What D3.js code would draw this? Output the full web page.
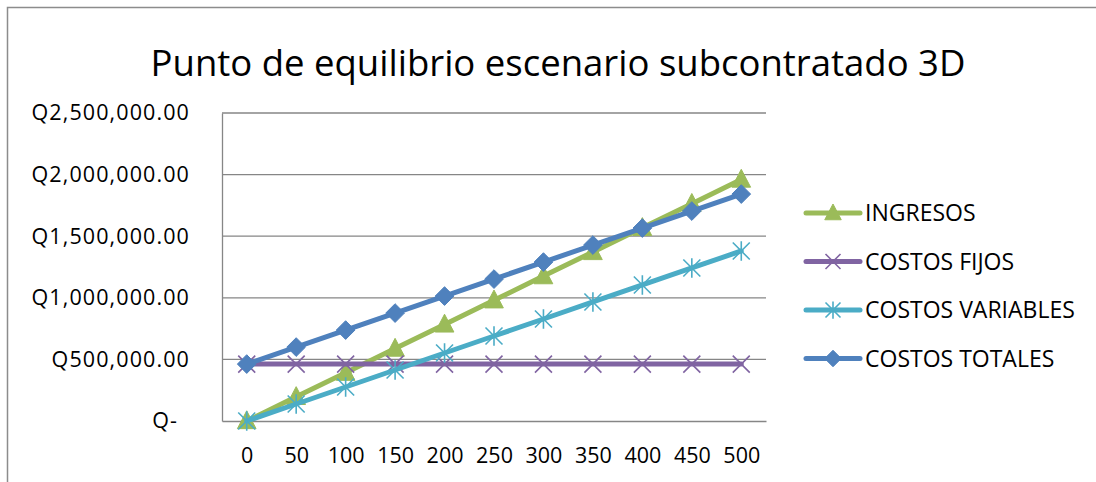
<!DOCTYPE html>
<html>
<head>
<meta charset="utf-8">
<script src="https://cdn.jsdelivr.net/npm/d3@7"></script>
<style>
  html, body { margin: 0; padding: 0; background: #fff; }
  svg { display: block; font-family: "Open Sans", "Noto Sans", sans-serif; }
</style>
</head>
<body>
<svg id="chart" width="1096" height="482"></svg>
<script>
// Break-even data: units produced vs. amounts in quetzales
const units = [0, 50, 100, 150, 200, 250, 300, 350, 400, 450, 500];
const ingresos = [0, 196000, 392000, 588000, 784000, 980000, 1176000, 1372000, 1568000, 1764000, 1960000];
const costosFijos = [462000, 462000, 462000, 462000, 462000, 462000, 462000, 462000, 462000, 462000, 462000];
const costosVariables = [0, 138000, 276000, 414000, 552000, 690000, 828000, 966000, 1104000, 1242000, 1380000];
const costosTotales = [462000, 600000, 738000, 876000, 1014000, 1152000, 1290000, 1428000, 1566000, 1704000, 1842000];
const yTicks = [0, 500000, 1000000, 1500000, 2000000, 2500000];
const seriesNames = ["INGRESOS", "COSTOS FIJOS", "COSTOS VARIABLES", "COSTOS TOTALES"];
const chartTitle = "Punto de equilibrio escenario subcontratado 3D";

const series = [
  { name: seriesNames[0], values: ingresos, color: "#9bbb59", marker: "triangle" },
  { name: seriesNames[1], values: costosFijos, color: "#8064a2", marker: "x" },
  { name: seriesNames[2], values: costosVariables, color: "#4bacc6", marker: "star" },
  { name: seriesNames[3], values: costosTotales, color: "#4f81bd", marker: "diamond" }
];

const svg = d3.select("#chart");
const plot = { left: 222, right: 766, top: 113, bottom: 421 };

// Outer chart frame (top and left edges visible)
svg.append("path")
  .attr("d", "M7.5,482 V7.5 H1096")
  .attr("fill", "none").attr("stroke", "#8c8c8c").attr("stroke-width", 1.5);

// Title
svg.append("text")
  .attr("x", 558).attr("y", 76)
  .attr("text-anchor", "middle")
  .attr("font-size", 36.5)
  .attr("fill", "#000")
  .text(chartTitle);

const x = d3.scalePoint().domain(units).range([plot.left, plot.right]).padding(0.5);
const y = d3.scaleLinear().domain([0, 2500000]).range([plot.bottom, plot.top]);

const fmt = d3.format(",.2f");
const qFormat = d => d === 0 ? "Q-" : "Q" + fmt(d);

// Horizontal gridlines
svg.append("g")
  .selectAll("line").data(yTicks.filter(d => d > 0)).join("line")
  .attr("x1", plot.left).attr("x2", plot.right)
  .attr("y1", d => y(d)).attr("y2", d => y(d))
  .attr("stroke", "#868686").attr("stroke-width", 1.3);

// Y axis
const yAxis = svg.append("g")
  .attr("transform", `translate(${plot.left},0)`)
  .call(d3.axisLeft(y).tickValues(yTicks).tickFormat(qFormat).tickSize(0).tickPadding(32));
yAxis.select(".domain").attr("stroke", "#868686").attr("stroke-width", 1.3);
yAxis.selectAll("text")
  .attr("font-size", 21.5).attr("fill", "#000")
  .attr("letter-spacing", 1.1)
  .attr("font-family", "'Open Sans', sans-serif")
  .attr("dx", d => d === 0 ? -12 : 0);

// X axis
const xAxis = svg.append("g")
  .attr("transform", `translate(0,${plot.bottom})`)
  .call(d3.axisBottom(x).tickSize(0).tickPadding(27));
xAxis.select(".domain").attr("stroke", "#868686").attr("stroke-width", 1.3);
xAxis.selectAll("text")
  .attr("font-size", 21.5).attr("fill", "#000")
  .attr("font-family", "'Open Sans', sans-serif");

// Marker shapes, centred on the origin
function markerPath(type, s) {
  const p = d3.path();
  if (type === "triangle") {
    p.moveTo(0, -s * 0.6); p.lineTo(s * 0.55, s * 0.45); p.lineTo(-s * 0.55, s * 0.45); p.closePath();
  } else if (type === "diamond") {
    p.moveTo(0, -s * 0.55); p.lineTo(s * 0.55, 0); p.lineTo(0, s * 0.55); p.lineTo(-s * 0.55, 0); p.closePath();
  } else if (type === "x") {
    const h = s * 0.5;
    p.moveTo(-h, -h); p.lineTo(h, h); p.moveTo(-h, h); p.lineTo(h, -h);
  } else {
    const h = s * 0.5;
    p.moveTo(-h, -h); p.lineTo(h, h); p.moveTo(-h, h); p.lineTo(h, -h);
    p.moveTo(0, -h * 1.15); p.lineTo(0, h * 1.15);
  }
  return p.toString();
}
function drawMarker(g, type, color, s) {
  const filled = type === "triangle" || type === "diamond";
  g.append("path")
    .attr("d", markerPath(type, s))
    .attr("fill", filled ? color : "none")
    .attr("stroke", color)
    .attr("stroke-width", filled ? 1 : 1.6);
}

const line = d3.line().x((d, i) => x(units[i])).y(d => y(d));

series.forEach(sr => {
  const g = svg.append("g");
  g.append("path")
    .datum(sr.values)
    .attr("d", line)
    .attr("fill", "none")
    .attr("stroke", sr.color)
    .attr("stroke-width", 5)
    .attr("stroke-linejoin", "round")
    .attr("stroke-linecap", "round");
  sr.values.forEach((v, i) => {
    const mg = g.append("g").attr("transform", `translate(${x(units[i])},${y(v)})`);
    drawMarker(mg, sr.marker, sr.color, 17);
  });
});

// Legend
const legend = svg.append("g").attr("transform", "translate(806,213)");
series.forEach((sr, i) => {
  const row = legend.append("g").attr("transform", `translate(0,${i * 48.5})`);
  row.append("line")
    .attr("x1", 0).attr("x2", 54)
    .attr("stroke", sr.color).attr("stroke-width", 5).attr("stroke-linecap", "round");
  const mg = row.append("g").attr("transform", "translate(27,0)");
  drawMarker(mg, sr.marker, sr.color, 15);
  row.append("text")
    .attr("x", 59).attr("y", 0).attr("dy", "0.36em")
    .attr("font-size", 23).attr("fill", "#000")
    .text(sr.name);
});
</script>
</body>
</html>
